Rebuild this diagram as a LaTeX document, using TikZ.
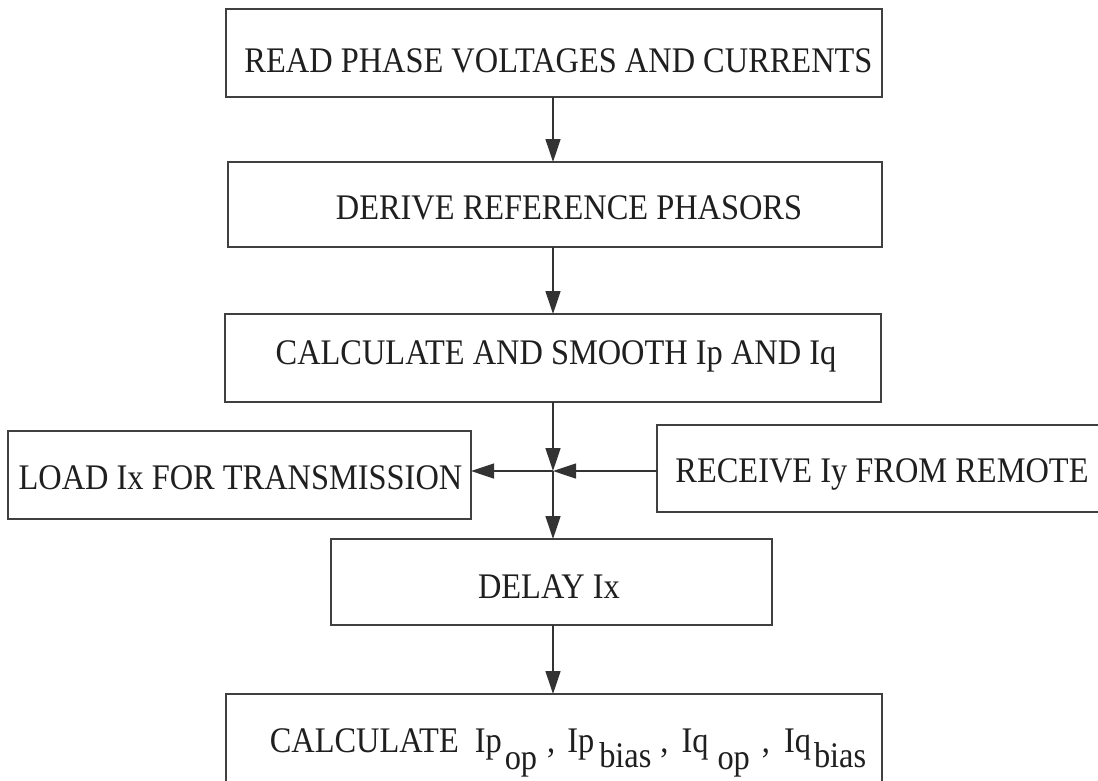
\documentclass[tikz,border=0pt]{standalone}
\usepackage{fontspec}
\setmainfont{Liberation Serif}[FakeStretch=0.9]
\usetikzlibrary{arrows.meta}

\tikzset{
  box/.style={draw=black!75, line width=1.1pt, inner sep=0pt, outer sep=0pt},
  lbl/.style={font=\fontsize{36}{40}\selectfont, text=black!88, inner sep=0pt,
              text height=24pt, text depth=0pt},
  arr/.style={draw=black!80, line width=1.3pt,
              -{Triangle[length=23pt,width=15pt]}}
}

\begin{document}
\begin{tikzpicture}[x=1pt,y=-1pt]
  \path[use as bounding box, fill=white] (0,0) rectangle (1098,780);
  \clip (0,0) rectangle (1098,780);

  % process boxes
  \node[box, minimum width=656pt, minimum height=88pt,
        label={[lbl,xshift=4.5pt,yshift=-7pt]center:{READ PHASE VOLTAGES AND CURRENTS}}]
        (read) at (554,53) {};
  \node[box, minimum width=654pt, minimum height=85pt,
        label={[lbl,xshift=14pt,yshift=-2.5pt]center:{DERIVE REFERENCE PHASORS}}]
        (derive) at (555,204.5) {};
  \node[box, minimum width=656pt, minimum height=88pt,
        label={[lbl,xshift=3pt,yshift=6pt]center:{CALCULATE AND SMOOTH Ip AND Iq}}]
        (smooth) at (553,358) {};
  \node[box, minimum width=463pt, minimum height=88pt,
        label={[lbl,xshift=1pt,yshift=-2pt]center:{LOAD Ix FOR TRANSMISSION}}]
        (load) at (239.5,475) {};
  \node[box, minimum width=446pt, minimum height=87pt,
        label={[lbl,xshift=2pt,yshift=-1.5pt]center:{RECEIVE Iy FROM REMOTE}}]
        (receive) at (880,468.5) {};
  \node[box, minimum width=441pt, minimum height=86pt,
        label={[lbl,xshift=-2.5pt,yshift=-4pt]center:{DELAY Ix}}]
        (delay) at (551.5,582) {};
  \node[box, minimum width=656pt, minimum height=106pt,
        label={[lbl,xshift=14pt,yshift=7pt]center:{CALCULATE\kern16pt Ip\kern3pt\raisebox{-17pt}{op}\kern10pt,\kern12pt
          Ip\kern5pt\raisebox{-15pt}{bias}\kern9pt,\kern13pt
          Iq\kern9pt\raisebox{-17pt}{op}\kern12pt,\kern14pt
          Iq\kern3pt\raisebox{-15pt}{bias}}}]
        (calcop) at (554,747) {};

  % junction of the data paths
  \coordinate (j) at (553,471);

  % connectors
  \draw[arr] (read.south -| j) -- (derive.north -| j);
  \draw[arr] (derive.south -| j) -- (smooth.north -| j);
  \draw[arr] (smooth.south -| j) -- (j);
  \draw[arr] (j) -- (delay.north -| j);
  \draw[arr] (receive.west |- j) -- (j);
  \draw[arr] (j) -- (load.east |- j);
  \draw[arr] (delay.south -| j) -- (calcop.north -| j);
\end{tikzpicture}
\end{document}
